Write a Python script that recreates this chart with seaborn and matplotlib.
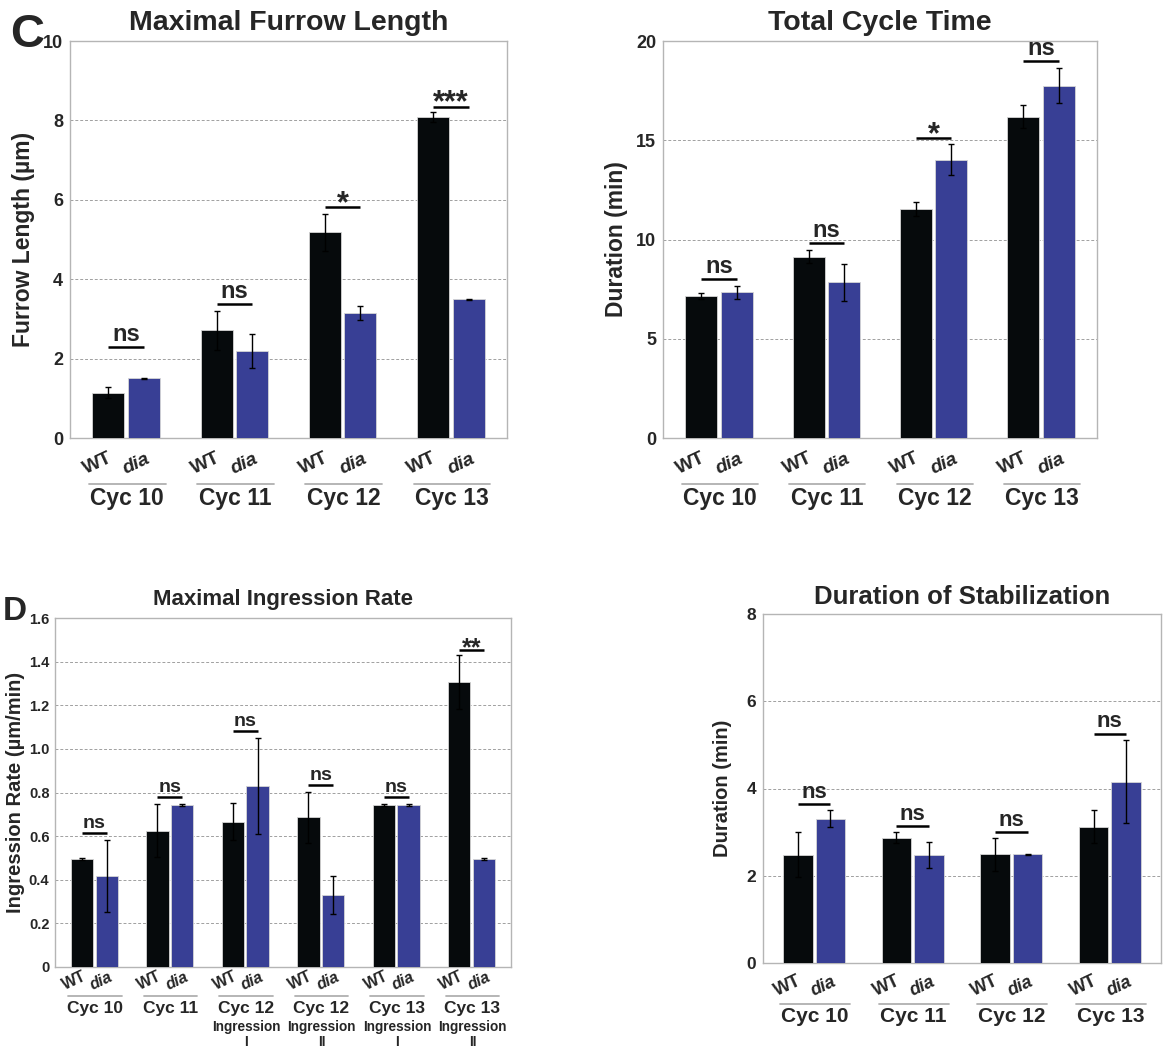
import matplotlib
matplotlib.use("Agg")
import matplotlib.pyplot as plt
import matplotlib.transforms as mtransforms
import pandas as pd
import seaborn as sns

GENOTYPES = ["WT", "dia"]
CYCLES = ["Cyc 10", "Cyc 11", "Cyc 12", "Cyc 13"]

# C: maximal furrow length (um)
furrow_wt = [1.14, 2.71, 5.18, 8.08]
furrow_wt_err = [0.14, 0.50, 0.47, 0.13]
furrow_dia = [1.50, 2.19, 3.15, 3.49]
furrow_dia_err = [0.02, 0.42, 0.18, 0.02]
furrow_sig = ["ns", "ns", "*", "***"]
furrow_sig_y = [2.28, 3.37, 5.82, 8.35]

# C: total cycle time (min)
cycle_wt = [7.16, 9.14, 11.54, 16.19]
cycle_wt_err = [0.14, 0.32, 0.36, 0.59]
cycle_dia = [7.35, 7.85, 14.03, 17.75]
cycle_dia_err = [0.33, 0.93, 0.76, 0.89]
cycle_sig = ["ns", "ns", "*", "ns"]
cycle_sig_y = [8.02, 9.82, 15.10, 18.99]

# D: maximal ingression rate (um/min)
INGR_KEYS = ["c10", "c11", "c12a", "c12b", "c13a", "c13b"]
INGR_LABELS = ["Cyc 10", "Cyc 11", "Cyc 12", "Cyc 12", "Cyc 13", "Cyc 13"]
INGR_SUB = ["", "", "Ingression\nI", "Ingression\nII", "Ingression\nI", "Ingression\nII"]
ingr_wt = [0.497, 0.625, 0.665, 0.686, 0.744, 1.307]
ingr_wt_err = [0.005, 0.120, 0.085, 0.118, 0.004, 0.122]
ingr_dia = [0.417, 0.744, 0.830, 0.330, 0.744, 0.497]
ingr_dia_err = [0.166, 0.005, 0.222, 0.088, 0.005, 0.005]
ingr_sig = ["ns", "ns", "ns", "ns", "ns", "**"]
ingr_sig_y = [0.613, 0.779, 1.083, 0.836, 0.781, 1.453]

# D: duration of stabilization (min)
stab_wt = [2.48, 2.87, 2.49, 3.12]
stab_wt_err = [0.52, 0.13, 0.37, 0.38]
stab_dia = [3.31, 2.48, 2.49, 4.16]
stab_dia_err = [0.19, 0.30, 0.02, 0.95]
stab_sig = ["ns", "ns", "ns", "ns"]
stab_sig_y = [3.64, 3.14, 3.00, 5.26]

BLACK = "#060a0c"
BLUE = "#383f95"
FIG_W, FIG_H = 1163, 1049

sns.set_style("white")
plt.rcParams["font.family"] = ["Liberation Sans", "DejaVu Sans"]


def panel(rect, keys, labels, wt, wt_err, dia, dia_err, sig, sig_y, ymax, ystep,
          title, ylabel, sizes, offs, subs=None):
    ax = fig.add_axes([rect[0] / FIG_W, 1 - rect[3] / FIG_H,
                       (rect[2] - rect[0]) / FIG_W, (rect[3] - rect[1]) / FIG_H])
    h_px = rect[3] - rect[1]
    n = len(keys)
    df = pd.DataFrame({"group": keys * 2,
                       "genotype": ["WT"] * n + ["dia"] * n,
                       "value": wt + dia})
    sns.barplot(data=df, x="group", y="value", hue="genotype", hue_order=GENOTYPES,
                palette=[BLACK, BLUE], saturation=1, width=0.66, gap=0.1,
                errorbar=None, legend=False, edgecolor="#d5d5d5", linewidth=0.6,
                ax=ax, zorder=3)
    ax.set_axisbelow(True)

    wt_x = [p.get_x() + p.get_width() / 2 for p in ax.containers[0]]
    dia_x = [p.get_x() + p.get_width() / 2 for p in ax.containers[1]]
    ax.errorbar(wt_x, wt, yerr=wt_err, fmt="none", ecolor="black", elinewidth=1,
                capsize=2, capthick=1, zorder=4)
    ax.errorbar(dia_x, dia, yerr=dia_err, fmt="none", ecolor="black", elinewidth=1,
                capsize=2, capthick=1, zorder=4)

    ax.set_xlim(-0.52, n - 1 + 0.52)
    ax.set_ylim(0, ymax)
    ticks = [i * ystep for i in range(int(round(ymax / ystep)) + 1)]
    ax.set_yticks(ticks)
    fmt = "{:.1f}" if ystep < 1 else "{:.0f}"
    ax.set_yticklabels(["0"] + [fmt.format(t) for t in ticks[1:]],
                       fontsize=sizes["tick"], fontweight="bold")
    ax.tick_params(axis="y", length=0, pad=sizes.get("tpad", 5))
    ax.set_xticks([])
    ax.set_xlabel("")
    ax.yaxis.grid(True, color="#a0a0a0", linestyle=(0, (3, 2)), linewidth=0.7)
    for s in ax.spines.values():
        s.set_color("#b5b5b5")
        s.set_linewidth(1.0)

    ax.set_title(title, fontsize=sizes["title"], fontweight="bold", pad=sizes["pad"])
    ax.set_ylabel(ylabel, fontsize=sizes["ylabel"], fontweight="bold")
    ax.yaxis.set_label_coords(sizes["ylx"], 0.5)

    # significance bars
    for i in range(n):
        ax.plot([wt_x[i], dia_x[i]], [sig_y[i], sig_y[i]], color="black", lw=1.8,
                zorder=5, solid_capstyle="butt")
        star = "*" in sig[i]
        ax.text((wt_x[i] + dia_x[i]) / 2, sig_y[i] - (ymax * 0.03 if star else -ymax * 0.003),
                sig[i], ha="center", va="bottom",
                fontsize=sizes["sig"] * (1.3 if star else 1), fontweight="bold", zorder=5)

    trans = mtransforms.blended_transform_factory(ax.transData, ax.transAxes)
    for i in range(n):
        for x, dx, lab, style in [(wt_x[i], -0.1, "WT", "normal"),
                                  (dia_x[i], -0.07, "dia", "italic")]:
            ax.text(x + dx, -offs[0] / h_px, lab, transform=trans, rotation=25,
                    rotation_mode="anchor", ha="center", va="center",
                    fontsize=sizes["geno"], fontweight="bold", style=style)
        left = ax.containers[0][i].get_x() - 0.03
        right = ax.containers[1][i].get_x() + ax.containers[1][i].get_width() + 0.05
        ax.plot([left, right], [-offs[1] / h_px] * 2, transform=trans, color="#b0b0b0",
                lw=1.3, clip_on=False)
        ax.text((left + right) / 2, -offs[2] / h_px, labels[i], transform=trans,
                ha="center", va="center", fontsize=sizes["cyc"], fontweight="bold")
        if subs and subs[i]:
            ax.text((left + right) / 2, -offs[3] / h_px, subs[i], transform=trans,
                    ha="center", va="top", fontsize=sizes["sub"], fontweight="bold",
                    linespacing=1.05)
    return ax


fig = plt.figure(figsize=(FIG_W / 100, FIG_H / 100), dpi=100)

top_sizes = {"tick": 13, "title": 20.5, "pad": 8, "ylabel": 16.5, "ylx": -0.08,
             "sig": 17, "geno": 14, "cyc": 16.5}
panel((70, 41, 507, 438), CYCLES, CYCLES, furrow_wt, furrow_wt_err, furrow_dia,
      furrow_dia_err, furrow_sig, furrow_sig_y, 10, 2, "Maximal Furrow Length",
      "Furrow Length (µm)", top_sizes, (26, 46, 60))

top_sizes2 = dict(top_sizes, ylx=-0.081)
panel((663, 41, 1097, 438), CYCLES, CYCLES, cycle_wt, cycle_wt_err, cycle_dia,
      cycle_dia_err, cycle_sig, cycle_sig_y, 20, 5, "Total Cycle Time",
      "Duration (min)", top_sizes2, (26, 46, 60))

d_sizes = {"tick": 10.5, "tpad": 4, "title": 16, "pad": 9, "ylabel": 14.5,
           "ylx": -0.066, "sig": 14, "geno": 11.5, "cyc": 12.5, "sub": 9.8}
panel((55, 618, 511, 967), INGR_KEYS, INGR_LABELS, ingr_wt, ingr_wt_err, ingr_dia,
      ingr_dia_err, ingr_sig, ingr_sig_y, 1.6, 0.2, "Maximal Ingression Rate",
      "Ingression Rate (µm/min)", d_sizes, (14, 29, 41, 53), subs=INGR_SUB)

s_sizes = {"tick": 12.5, "title": 18.5, "pad": 7, "ylabel": 14.5, "ylx": -0.078,
           "sig": 16, "geno": 13, "cyc": 15}
panel((763, 614, 1161, 963), CYCLES, CYCLES, stab_wt, stab_wt_err, stab_dia,
      stab_dia_err, stab_sig, stab_sig_y, 8, 2, "Duration of Stabilization",
      "Duration (min)", s_sizes, (23, 41, 54))

fig.text(10 / FIG_W, 1 - 47 / FIG_H, "C", fontsize=34, fontweight="bold", va="baseline")
fig.text(3 / FIG_W, 1 - 620 / FIG_H, "D", fontsize=24, fontweight="bold", va="baseline")

fig.savefig("out.png", dpi=100, facecolor="white")
